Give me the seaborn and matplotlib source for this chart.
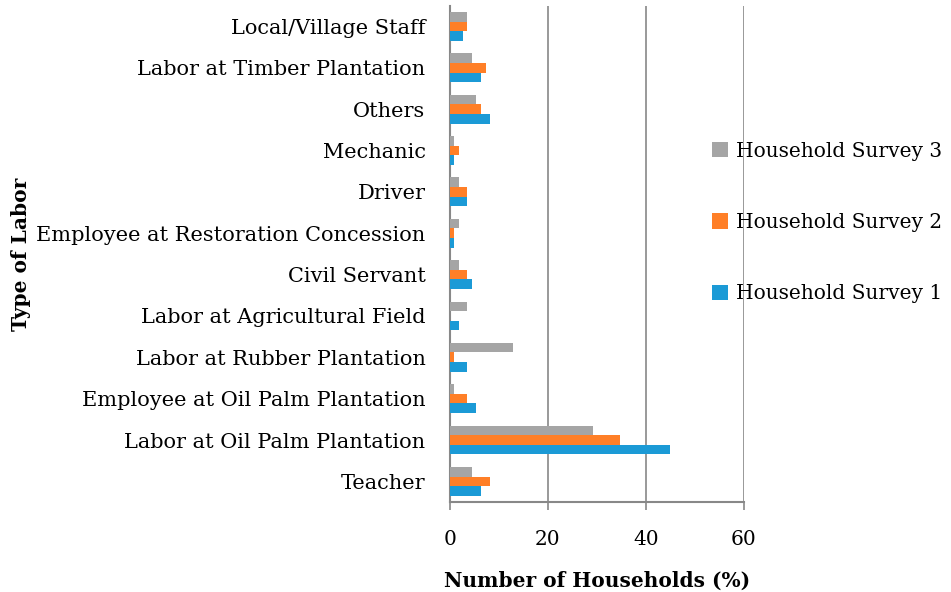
import numpy as np
import matplotlib.pyplot as plt
import pandas as pd
import seaborn as sns

# categories top to bottom as drawn
labor_types = ["Local/Village Staff", "Labor at Timber Plantation", "Others", "Mechanic",
               "Driver", "Employee at Restoration Concession", "Civil Servant",
               "Labor at Agricultural Field", "Labor at Rubber Plantation",
               "Employee at Oil Palm Plantation", "Labor at Oil Palm Plantation", "Teacher"]
survey_3 = [3.6, 4.6, 5.4, 0.9, 1.8, 1.8, 1.8, 3.6, 12.8, 0.9, 29.3, 4.6]
survey_2 = [3.6, 7.3, 6.4, 1.8, 3.6, 0.9, 3.6, 0.0, 0.9, 3.6, 34.8, 8.2]
survey_1 = [2.7, 6.4, 8.2, 0.9, 3.6, 0.9, 4.6, 1.8, 3.6, 5.4, 45.0, 6.4]
surveys = ["Household Survey 3", "Household Survey 2", "Household Survey 1"]
colors = ["#A5A5A5", "#FF7F27", "#1B9AD6"]

df = pd.DataFrame({"Type": labor_types * 3,
                   "Value": survey_3 + survey_2 + survey_1,
                   "Survey": np.repeat(surveys, len(labor_types))})

sns.set_style("white")
plt.rcParams['font.family'] = ['DejaVu Serif']
plt.rcParams['text.color'] = 'black'
plt.rcParams['axes.labelcolor'] = 'black'
plt.rcParams['xtick.labelcolor'] = 'black'
plt.rcParams['ytick.labelcolor'] = 'black'

fig, ax = plt.subplots(figsize=(9.51, 5.92), dpi=100)
fig.subplots_adjust(left=0.473, right=0.782, top=0.99, bottom=0.152)

sns.barplot(data=df, y="Type", x="Value", hue="Survey", order=labor_types,
            hue_order=surveys, palette=colors, width=0.7, saturation=1,
            orient="h", ax=ax, zorder=3, linewidth=0)

ax.set_xlim(0, 60)
ax.set_xticks([0, 20, 40, 60])
ax.grid(axis="x", color="#888888", linewidth=1.2, zorder=0)
ax.set_axisbelow(True)
for s in ["top", "right"]:
    ax.spines[s].set_visible(False)
ax.spines["left"].set_color("#888888")
ax.spines["left"].set_linewidth(1.5)
ax.spines["bottom"].set_color("#888888")
ax.spines["bottom"].set_linewidth(1.5)
ax.tick_params(axis="x", bottom=True, length=6, width=1.2, color="#888888",
               labelsize=14.5, pad=14)
ax.tick_params(axis="y", left=False, labelsize=15, pad=14)

ax.set_xlabel("Number of Households (%)", fontsize=14.5, fontweight="bold", labelpad=16)
ax.set_ylabel("Type of Labor", fontsize=14.5, fontweight="bold", labelpad=4)

handles, labels = ax.get_legend_handles_labels()
ax.legend(handles, labels, loc="center left", bbox_to_anchor=(0.74, 0.624),
          bbox_transform=fig.transFigure, frameon=False, fontsize=14.5,
          handlelength=0.8, handleheight=0.8, handletextpad=0.4, labelspacing=2.6,
          borderaxespad=0)

plt.savefig("out.png", dpi=100)
